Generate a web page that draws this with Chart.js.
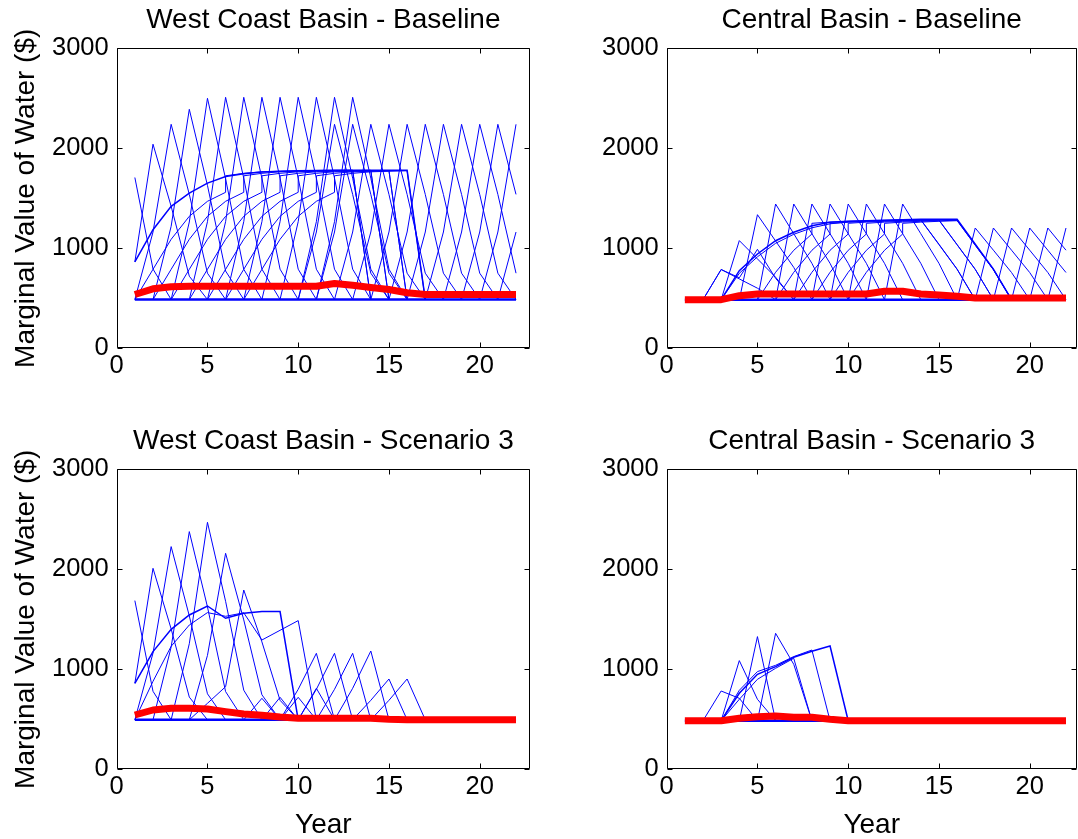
<!DOCTYPE html>
<html><head><meta charset="utf-8">
<script src="https://cdn.jsdelivr.net/npm/chart.js@4.4.1/dist/chart.umd.min.js"></script>
<style>
html,body{margin:0;padding:0;background:#fff;width:1078px;height:839px;overflow:hidden;}
canvas{position:absolute;}
</style></head><body>
<canvas id="c1" width="540" height="400" style="left:0px;top:0px;width:540px;height:400px"></canvas>
<canvas id="c2" width="528" height="400" style="left:550px;top:0px;width:528px;height:400px"></canvas>
<canvas id="c3" width="540" height="419" style="left:0px;top:420px;width:540px;height:419px"></canvas>
<canvas id="c4" width="528" height="419" style="left:550px;top:420px;width:528px;height:419px"></canvas>
<script>
// ---------- tick labels ----------
const xTicks = [0, 5, 10, 15, 20];
const yTicks = [0, 1000, 2000, 3000];
const titles = ["West Coast Basin - Baseline", "Central Basin - Baseline",
                "West Coast Basin - Scenario 3", "Central Basin - Scenario 3"];
const xLabel = "Year";
const yLabel = "Marginal Value of Water ($)";

// ---------- West Coast Basin - Baseline ----------
const wcbBaseRed = [538, 595, 615, 621, 621, 621, 621, 621, 621, 621, 621, 648, 630, 608, 588, 555, 538, 538, 538, 538, 538, 538];
const wcbBaseFloor = [488, 488, 488, 488, 488, 488, 488, 488, 488, 488, 488, 488, 488, 488, 488, 488, 488, 488, 488, 488, 488, 488];
const wcbBaseThick = [1, 864, 1186, 1419, 1552, 1652, 1718, 1745, 1762, 1770, 1775, 1778, 1780, 1780, 1780, 1780, 1780, 488];
const wcbBaseLines = [
  [1, 1708, 793, 488],
  [1, 864, 2041, 1420, 721, 488],
  [1, 488, 1163, 2240, 1539, 751, 488],
  [2, 488, 1220, 2390, 1629, 773, 488],
  [3, 488, 1263, 2500, 1695, 790, 488],
  [4, 488, 1266, 2510, 1701, 791, 488],
  [5, 488, 1266, 2510, 1701, 791, 488],
  [6, 488, 1266, 2510, 1701, 791, 488],
  [7, 488, 1266, 2510, 1701, 791, 488],
  [8, 488, 1266, 2510, 1701, 791, 488],
  [9, 488, 1266, 2510, 1701, 791, 488],
  [10, 488, 1266, 2510, 1701, 791, 488],
  [11, 488, 1266, 2510, 1701, 791, 488],
  [10, 488, 1163, 2240, 1539, 751, 488],
  [11, 488, 1163, 2240, 1539, 751, 488],
  [12, 488, 1163, 2240, 1539, 751, 488],
  [13, 488, 1163, 2240, 1539, 751, 488],
  [14, 488, 1163, 2240, 1539, 751, 488],
  [15, 488, 1163, 2240, 1539, 751, 488],
  [16, 488, 1163, 2240, 1539, 751, 488],
  [17, 488, 1163, 2240, 1539, 751, 488],
  [18, 488, 1163, 2240, 1539, 751],
  [19, 488, 1163, 2240, 1539],
  [20, 488, 1163, 2240],
  [21, 488, 1163],
  [1, 488, 790, 1090, 1320, 1470, [1560, 1725], 1750, 1765, 1770, 1775, 1778, 1780, 1780, 488],
  [2, 488, 790, 1090, 1320, 1470, [1560, 1725], 1750, 1765, 1770, 1775, 1778, 1780, 488],
  [3, 488, 790, 1090, 1320, 1470, [1560, 1725], 1750, 1765, 1770, 1775, 1778, 1780, 488],
  [4, 488, 790, 1090, 1320, 1470, [1560, 1725], 1750, 1765, 1770, 1775, 1778, 488],
  [5, 488, 790, 1090, 1320, 1470, [1560, 1725], 1750, 1765, 1770, 1775, 1778, 488],
  [6, 488, 790, 1090, 1320, 1470, [1560, 1725], 1750, 1765, 1770, 1775, 488],
  [7, 488, 790, 1090, 1320, 1470, [1560, 1725], 1750, 1765, 1770, 1775, 488]
];

// ---------- Central Basin - Baseline ----------
const cbBaseRed = [486, 486, 486, 526, 543, 543, 543, 543, 543, 543, 543, 570, 570, 543, 533, 520, 503, 503, 503, 503, 503, 503];
const cbBaseFloor = [486, 486, 486, 486, 486, 486, 486, 486, 486, 486, 486, 486, 486, 486, 486, 486, 486, 486, 486, 486, 486, 486];
const cbBaseThick = [3, 486, 776, 943, 1076, 1160, 1226, 1260, 1270, 1275, 1280, 1285, 1290, 1290, 1290, 1041, 792, 486];
const cbBaseLines = [
  [2, 486, 788, 694, 601, 486],
  [2, 486, 788, 705, 990, 700, 486],
  [3, 486, 1077, 894, 711, 486],
  [4, 486, 1336, 1073, 809, 486],
  [5, 486, 1443, 1146, 850, 486],
  [6, 486, 1443, 1146, 850, 486],
  [7, 486, 1443, 1146, 850, 486],
  [8, 486, 1443, 1146, 850, 486],
  [9, 486, 1443, 1146, 850, 486],
  [10, 486, 1443, 1146, 850, 486],
  [11, 486, 1443, 1146, 850, 486],
  [12, 486, 1443, 1146, 850, 486],
  [16, 486, 1203, 981, 758, 486],
  [17, 486, 1203, 981, 758, 486],
  [18, 486, 1203, 981, 758, 486],
  [19, 486, 1203, 981, 758],
  [20, 486, 1203, 981],
  [21, 486, 1203],
  [3, 486, 750, 915, 1050, 1140, 1205, 1245, 1262, 1270, 1276, 1282, 1286, 1286, 1286, 1039, 790, 486],
  [5, 486, 760, 980, [1143, 1250], 1262, 1270, 1276, 1280, 1284, 1286, 1041, 792, 486],
  [6, 486, 760, 980, [1143, 1250], 1262, 1270, 1276, 1280, 1284, 1037, 790, 486],
  [7, 486, 760, 980, [1143, 1250], 1262, 1270, 1276, 1280, 1284, 1037, 790, 486],
  [8, 486, 760, 980, [1143, 1250], 1262, 1270, 1276, 1280, 1035, 789, 486],
  [9, 486, 760, 980, [1143, 1250], 1262, 1270, 1276, 1280, 1034, 788, 486],
  [10, 486, 760, 980, [1143, 1250], 1262, 1270, 1276, 1030, 786, 486]
];

// ---------- West Coast Basin - Scenario 3 ----------
const wcbS3Red = [543, 593, 610, 610, 603, 577, 553, 540, 522, 510, 510, 510, 510, 510, 500, 495, 495, 495, 495, 495, 495, 495];
const wcbS3Floor = [495, 495, 495, 495, 495, 495, 495, 495, 495, 495, 495, 495, 495, 495, 495, 495, 495, 495, 495, 495, 495, 495];
const wcbS3Thick = [1, 860, 1177, 1400, 1543, 1633, 1510, 1560, 1577, 1577, 495];
const wcbS3Lines = [
  [1, 1687, 780, 495],
  [1, 860, 2010, 1404, 722, 495],
  [1, 495, 1162, 2227, 1534, 755, 495],
  [2, 495, 1222, 2377, 1624, 777, 495],
  [3, 495, 1256, 2470, 1680, 791, 495],
  [4, 495, 1139, 2160, 1494, 745, 495],
  [4, 495, 660, 826, 1793, 1274, 690, 495],
  [7, 495, 710, 495],
  [8, 495, 720, 495],
  [9, 495, 720, 495],
  [10, 495, 810, 495],
  [9, 495, 800, 1160, 495],
  [10, 495, 800, 1160, 495],
  [11, 495, 800, 1160, 495],
  [12, 495, 810, 1183, 495],
  [13, 495, 690, 903, 495],
  [14, 495, 690, 903, 495],
  [1, 495, 880, 1230, 1443, 1567, 1530, 1565, 1293, 1390, 1487, 495]
];

// ---------- Central Basin - Scenario 3 ----------
const cbS3Red = [486, 486, 486, 510, 526, 533, 520, 520, 500, 486, 486, 486, 486, 486, 486, 486, 486, 486, 486, 486, 486, 486];
const cbS3Floor = [486, 486, 486, 486, 486, 486, 486, 486, 486, 486, 486, 486, 486, 486, 486, 486, 486, 486, 486, 486, 486, 486];
const cbS3Thick = [3, 486, 760, 950, 1027, 1120, 1180, 1233, 486];
const cbS3Lines = [
  [2, 486, 783, 710, 486],
  [3, 486, 1087, 700, 486],
  [4, 486, 1327, 486],
  [5, 486, 1360, 1050, 486],
  [3, 486, 790, 977, 1040, 1127, 1193, 486],
  [3, 486, 700, 900, 1010, 1110, 486]
];

// ---------- helpers ----------
const FONT = "'Liberation Sans', Arial, sans-serif";
const LAST_YEAR = 22;
function pts(line) {
  const s = line[0], out = [];
  for (let i = 1; i < line.length; i++) {
    const x = s + i - 1;
    if (x > LAST_YEAR) break;
    const v = line[i];
    if (Array.isArray(v)) v.forEach(y => out.push({x, y}));
    else out.push({x, y: v});
  }
  return out;
}
function series(vals) { return vals.map((y, i) => ({x: i + 1, y})); }

const boxPlugin = {
  id: 'matlabBox',
  afterDraw(chart) {
    const {ctx, chartArea: a, scales} = chart;
    const L = Math.round(a.left) + 0.5, R = Math.round(a.right) - 0.5;
    const T = Math.round(a.top) + 0.5, B = Math.round(a.bottom) - 0.5;
    ctx.save();
    ctx.strokeStyle = '#000';
    ctx.lineWidth = 1;
    ctx.beginPath();
    ctx.rect(L, T, R - L, B - T);
    const tl = 5;
    xTicks.forEach(v => {
      const px = Math.round(scales.x.getPixelForValue(v)) + 0.5;
      ctx.moveTo(px, B); ctx.lineTo(px, B - tl);
      ctx.moveTo(px, T); ctx.lineTo(px, T + tl);
    });
    yTicks.forEach(v => {
      const py = Math.round(scales.y.getPixelForValue(v)) + 0.5;
      ctx.moveTo(L, py); ctx.lineTo(L + tl, py);
      ctx.moveTo(R, py); ctx.lineTo(R - tl, py);
    });
    ctx.stroke();
    ctx.restore();
  }
};

function makePanel(id, o) {
  const datasets = [];
  datasets.push({data: series(o.red), borderColor: '#ff0000', borderWidth: 7, borderJoinStyle: 'round'});
  datasets.push({data: pts(o.thick), borderColor: '#0000ff', borderWidth: 1.5});
  o.lines.forEach(l => datasets.push({data: pts(l), borderColor: '#0000ff', borderWidth: 1}));
  datasets.push({data: series(o.floor), borderColor: '#0000ff', borderWidth: 2.5});
  datasets.forEach(d => { d.pointRadius = 0; d.pointHoverRadius = 0; d.fill = false; d.tension = 0; });

  new Chart(document.getElementById(id), {
    type: 'line',
    data: {datasets},
    plugins: [boxPlugin],
    options: {
      responsive: false, animation: false, devicePixelRatio: 1,
      events: [],
      layout: {padding: {left: 0, right: o.padRight, top: 0, bottom: 0}},
      plugins: {
        legend: {display: false}, tooltip: {enabled: false},
        title: {display: true, text: o.title, fullSize: false, color: '#000',
                font: {family: FONT, size: 28, weight: 'normal', lineHeight: 1},
                padding: {top: o.titleTop, bottom: o.titleBottom}}
      },
      scales: {
        x: {
          type: 'linear', min: 0, max: o.xMax,
          afterBuildTicks: s => { s.ticks = xTicks.map(v => ({value: v})); },
          afterFit: s => { s.height = o.xHeight; },
          grid: {display: false, drawTicks: false}, border: {display: false},
          ticks: {color: '#000', font: {family: FONT, size: 25.5}, padding: 2, maxRotation: 0, autoSkip: false,
                  callback: v => String(v)},
          title: {display: o.showX, text: xLabel, color: '#000', font: {family: FONT, size: 28, lineHeight: 1}, padding: 0}
        },
        y: {
          type: 'linear', min: 0, max: 3000,
          afterBuildTicks: s => { s.ticks = yTicks.map(v => ({value: v})); },
          afterFit: s => { s.width = 116.7; },
          grid: {display: false, drawTicks: false}, border: {display: false},
          ticks: {color: '#000', font: {family: FONT, size: 25.5}, padding: 8, autoSkip: false,
                  callback: v => String(v)},
          title: {display: o.showY, text: yLabel, color: '#000', font: {family: FONT, size: 28, lineHeight: 1}, padding: {top: 12, bottom: 0}}
        }
      }
    }
  });
}

makePanel('c1', {title: titles[0], red: wcbBaseRed, floor: wcbBaseFloor, thick: wcbBaseThick, lines: wcbBaseLines,
  padRight: 10, xMax: 22.77, xHeight: 51.7, titleTop: 6, titleBottom: 14.3, showX: false, showY: true});
makePanel('c2', {title: titles[1], red: cbBaseRed, floor: cbBaseFloor, thick: cbBaseThick, lines: cbBaseLines,
  padRight: 1.3, xMax: 22.59, xHeight: 51.7, titleTop: 6, titleBottom: 14.3, showX: false, showY: false});
makePanel('c3', {title: titles[2], red: wcbS3Red, floor: wcbS3Floor, thick: wcbS3Thick, lines: wcbS3Lines,
  padRight: 10, xMax: 22.77, xHeight: 69.7, titleTop: 7, titleBottom: 14.3, showX: true, showY: true});
makePanel('c4', {title: titles[3], red: cbS3Red, floor: cbS3Floor, thick: cbS3Thick, lines: cbS3Lines,
  padRight: 1.3, xMax: 22.59, xHeight: 69.7, titleTop: 7, titleBottom: 14.3, showX: true, showY: false});
</script>
</body></html>
